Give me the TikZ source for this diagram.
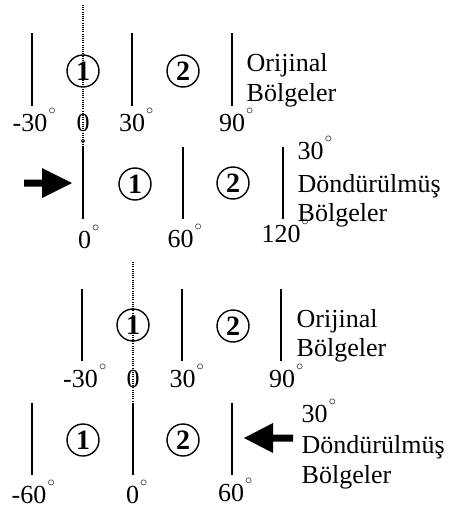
\documentclass[tikz,border=0pt]{standalone}
\usepackage{fontspec}
\setmainfont{Liberation Serif}
\newcommand\dg{\rlap{\kern1.2pt\raisebox{17pt}{\fontsize{15}{15}\selectfont$\circ$}}}
\tikzset{
  bar/.style={line width=1.6pt},
  dots/.style={line width=1.1pt, dash pattern=on 1pt off 1.2pt},
  num/.style={circle, draw, line width=1.4pt, minimum size=32pt, inner sep=0pt,
    font=\bfseries\fontsize{28}{28}\selectfont},
  lbl/.style={anchor=base, inner sep=0pt, font=\fontsize{26}{30}\selectfont},
  txt/.style={anchor=base west, inner sep=0pt, font=\fontsize{26}{30}\selectfont},
  bigarrow/.style={fill=black, draw=none}
}
\begin{document}
\begin{tikzpicture}[x=1pt,y=-1pt]
\useasboundingbox (0,0) rectangle (449,511);
% ---------- panel 1 ----------
\draw[dots] (83,5) -- (83,146);
\draw[line width=0.6pt] (83,141) circle (1.6pt);
\draw[bar] (32,33) -- (32,106);
\draw[bar] (132,33) -- (132,106);
\draw[bar] (232,33) -- (232,106);
\node[num] (a1) at (83,71) {1};
\node[num] (a2) at (183,71) {2};
\node[lbl] (la1) at (30,131) {-30\dg};
\node[lbl] (la2) at (83,131) {0};
\node[lbl] (la3) at (132,131) {30\dg};
\node[lbl] (la4) at (232,131) {90\dg};
\node[txt] (ta1) at (246.5,71) {Orijinal};
\node[txt] (ta2) at (246.5,101) {Bölgeler};
% ---------- panel 2 ----------
\draw[bar] (83,147) -- (83,219);
\draw[bar] (183,147) -- (183,219);
\draw[bar] (283,147) -- (283,219);
\node[num] (b1) at (135,184) {1};
\node[num] (b2) at (233,183) {2};
\fill[bigarrow] (24,179.5) -- (42,179.5) -- (42,168) -- (72,183) -- (42,198) -- (42,186.5) -- (24,186.5) -- cycle;
\node[lbl] (lb1) at (84.5,248) {0\dg};
\node[lbl] (lb2) at (180.5,247) {60\dg};
\node[lbl] (lb3) at (281,242) {120\dg};
\node[txt] (tb1) at (297.5,159) {30\dg};
\node[txt] (tb2) at (297.5,192) {Döndürülmüş};
\node[txt] (tb3) at (297.5,221) {Bölgeler};
% ---------- panel 3 ----------
\draw[dots] (133,262) -- (133,403);
\draw[bar] (82,289) -- (82,361);
\draw[bar] (182,289) -- (182,361);
\draw[bar] (281,289) -- (281,361);
\node[num] (c1) at (133,325) {1};
\node[num] (c2) at (233,326) {2};
\node[lbl] (lc1) at (80.5,387) {-30\dg};
\node[lbl] (lc2) at (133,387) {0};
\node[lbl] (lc3) at (182.5,387) {30\dg};
\node[lbl] (lc4) at (282,387) {90\dg};
\node[txt] (tc1) at (296.5,327) {Orijinal};
\node[txt] (tc2) at (296.5,356) {Bölgeler};
% ---------- panel 4 ----------
\draw[bar] (32,403) -- (32,475);
\draw[bar] (133,403) -- (133,475);
\draw[bar] (232,403) -- (232,475);
\node[num] (d1) at (83,440) {1};
\node[num] (d2) at (183,440) {2};
\fill[bigarrow] (293,434.5) -- (273,434.5) -- (273,423) -- (244,438) -- (273,453) -- (273,441.5) -- (293,441.5) -- cycle;
\node[lbl] (ld1) at (29,503) {-60\dg};
\node[lbl] (ld2) at (132.5,503) {0\dg};
\node[lbl] (ld3) at (231,501) {60\dg};
\node[txt] (td1) at (301.5,422) {30\dg};
\node[txt] (td2) at (301.5,453) {Döndürülmüş};
\node[txt] (td3) at (301.5,483) {Bölgeler};
\end{tikzpicture}
\end{document}
